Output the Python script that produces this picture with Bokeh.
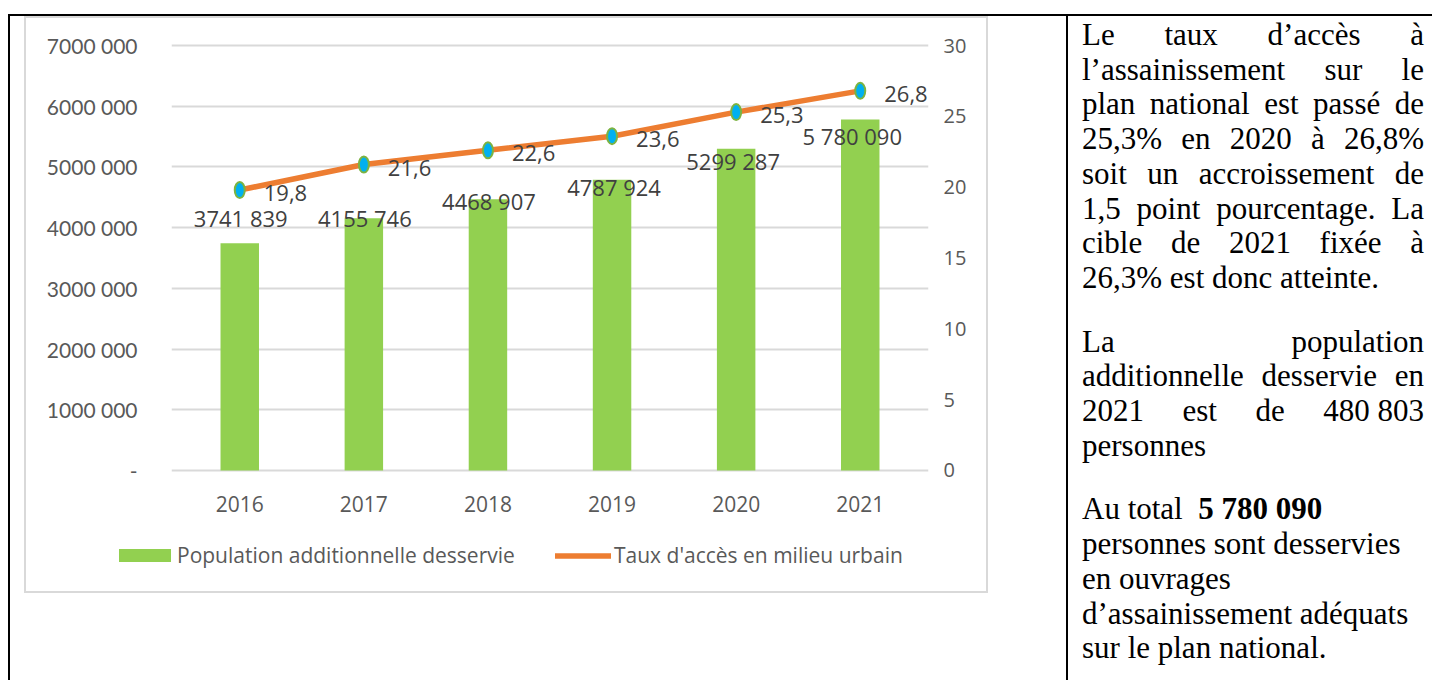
from bokeh.plotting import figure
from bokeh.models import (ColumnDataSource, FactorRange, Range1d, LinearAxis,
                          FixedTicker, Legend, LegendItem, Div, Spacer)
from bokeh.layouts import row, column
from bokeh.core.properties import value
from bokeh.embed import file_html
from bokeh.resources import INLINE

# ---------------- data ----------------
years = ["2016", "2017", "2018", "2019", "2020", "2021"]
population = [3741839, 4155746, 4468907, 4787924, 5299287, 5780090]
population_labels = ["3741 839", "4155 746", "4468 907", "4787 924", "5299 287", "5 780 090"]
taux = [19.8, 21.6, 22.6, 23.6, 25.3, 26.8]
taux_labels = ["19,8", "21,6", "22,6", "23,6", "25,3", "26,8"]

left_ticks = [0, 1000000, 2000000, 3000000, 4000000, 5000000, 6000000, 7000000]
left_tick_labels = ["-", "1000 000", "2000 000", "3000 000", "4000 000",
                    "5000 000", "6000 000", "7000 000"]
right_ticks = [0, 5, 10, 15, 20, 25, 30]
right_tick_labels = ["0", "5", "10", "15", "20", "25", "30"]

legend_bar = "Population additionnelle desservie"
legend_line = "Taux d'accès en milieu urbain"

# label nudges (screen px, style only)
pop_label_dx = [1, 1, 1, 2, -3, -8]
pop_label_dy = [-25, 0, 2, 7, 12, 16]

para1 = ["Le taux d’accès à", "l’assainissement sur le", "plan national est passé de",
         "25,3% en 2020 à 26,8%", "soit un accroissement de", "1,5 point pourcentage. La",
         "cible de 2021 fixée à", "26,3% est donc atteinte."]
para2 = ["La population", "additionnelle desservie en",
         "2021 est de <span style='display:inline-block'>480&nbsp;803</span>", "personnes"]
para3 = ["Au total&nbsp; <b>5 780 090</b>", "personnes sont desservies", "en ouvrages",
         "d’assainissement adéquats", "sur le plan national."]

BAR_COLOR = "#92D050"
LINE_COLOR = "#ED7D31"

# ---------------- chart ----------------
src = ColumnDataSource(dict(year=years, pop=population, pop_lbl=population_labels,
                            taux=taux, taux_lbl=taux_labels,
                            pop_dx=pop_label_dx, pop_dy=pop_label_dy))

pad = 50000
p = figure(x_range=FactorRange(factors=years, range_padding=0.05,
                               range_padding_units="absolute"),
           y_range=Range1d(-pad, 7000000 + pad),
           width=960, height=512, output_backend="svg", toolbar_location=None,
           title=None, min_border_left=145, min_border_right=58,
           min_border_top=24, min_border_bottom=57,
           outline_line_color=None, frame_align=False)
p.extra_y_ranges = {"pct": Range1d(-pad * 30 / 7000000, (7000000 + pad) * 30 / 7000000)}

ax = p.yaxis[0]
ax.ticker = FixedTicker(ticks=left_ticks)
ax.major_label_overrides = dict(zip(left_ticks, left_tick_labels))
ax.axis_line_color = None
ax.major_tick_line_color = None
ax.minor_tick_line_color = None
ax.major_tick_out = 0
ax.major_label_standoff = 34
ax.major_label_text_font = "Lato"
ax.major_label_text_font_size = "21px"
ax.major_label_text_color = "#595959"

rax = LinearAxis(y_range_name="pct", ticker=FixedTicker(ticks=right_ticks),
                 major_label_overrides=dict(zip(right_ticks, right_tick_labels)))
rax.axis_line_color = None
rax.major_tick_line_color = None
rax.minor_tick_line_color = None
rax.major_tick_out = 0
rax.major_label_standoff = 15
rax.major_label_text_font = "Open Sans"
rax.major_label_text_font_size = "20px"
rax.major_label_text_color = "#595959"
p.add_layout(rax, "right")

xax = p.xaxis[0]
xax.axis_line_color = None
xax.major_tick_line_color = None
xax.major_tick_out = 0
xax.major_label_standoff = 22
xax.major_label_text_font = "Open Sans"
xax.major_label_text_font_size = "21px"
xax.major_label_text_color = "#595959"

p.xgrid.grid_line_color = None
p.ygrid[0].ticker = FixedTicker(ticks=left_ticks)
p.ygrid.grid_line_color = "#D9D9D9"
p.ygrid.grid_line_width = 2

p.vbar(x="year", top="pop", width=0.31, source=src,
       fill_color=BAR_COLOR, line_color=None)
p.text(x="year", y="pop", text="pop_lbl", x_offset="pop_dx", y_offset="pop_dy",
       source=src, text_align="center", text_baseline="middle",
       text_font=value("Open Sans"), text_font_size="22px", text_color="#404040")
p.line(x="year", y="taux", source=src, y_range_name="pct",
       line_color=LINE_COLOR, line_width=5.5, line_cap="round", line_join="round")
p.ellipse(x="year", y="taux", width=10, height=16, width_units="screen",
          height_units="screen", source=src, y_range_name="pct",
          fill_color="#00B0F0", line_color="#7CB342", line_width=2)
p.text(x="year", y="taux", text="taux_lbl", x_offset=24, y_offset=3, source=src,
       y_range_name="pct", text_align="left", text_baseline="middle",
       text_font=value("Open Sans"), text_font_size="22px", text_color="#404040")

# ---------------- legend strip (bottom of the same chart box) ----------------
# same series on a range they never reach, so only the legend swatches show
q = figure(x_range=FactorRange(factors=years), y_range=Range1d(1e8, 2e8),
           width=960, height=61, output_backend="svg", toolbar_location=None,
           title=None, x_axis_type=None, y_axis_type=None, min_border=0,
           outline_line_color=None, frame_align=False)
q.grid.visible = False
lg_bar = q.vbar(x="year", top="pop", width=0.31, source=src,
                fill_color=BAR_COLOR, line_color=None)
lg_line = q.line(x="year", y="taux", source=src, line_color=LINE_COLOR,
                 line_width=5.5, line_cap="round")
common = dict(orientation="horizontal", padding=0, margin=0, spacing=0,
              border_line_color=None, background_fill_alpha=0,
              label_text_font="Open Sans", label_text_font_size="21px",
              label_text_color="#595959")
leg1 = Legend(items=[LegendItem(label=legend_bar, renderers=[lg_bar])],
              location=(86, 22), glyph_width=65, glyph_height=16,
              label_standoff=0, **common)
leg2 = Legend(items=[LegendItem(label=legend_line, renderers=[lg_line])],
              location=(529, 22), glyph_width=56, glyph_height=13,
              label_standoff=3, **common)
q.add_layout(leg1, "center")
q.add_layout(leg2, "center")

chart_box = column(p, q, margin=(4, 0, 0, 18),
                   styles={"outline": "2px solid #D9D9D9"})

# ---------------- text cell ----------------
def para_html(lines, justify_until, last=False):
    out = []
    for i, t in enumerate(lines):
        if i < justify_until:
            st = "text-align:justify;text-align-last:justify;"
        else:
            st = "text-align:left;"
        out.append(f'<div style="{st}">{t}</div>')
    mb = "0" if last else "29px"
    return f'<div style="margin-bottom:{mb}">' + "".join(out) + "</div>"

html = ("<div style=\"font-family:'Liberation Serif';font-size:31px;line-height:34.7px;"
        "color:#000;padding:4px 8px 0 16px;width:366px;box-sizing:border-box;\">"
        + para_html(para1, 7) + para_html(para2, 3) + para_html(para3, 0, last=True)
        + "</div>")

div = Div(text=html, width=366, height=666, margin=(0, 0, 0, 80),
          styles={"box-shadow": "inset 2px 0 0 #000"})

body = row(chart_box, div, styles={"box-shadow": "inset 2px 2px 0 #000"})
layout = column(Spacer(width=1432, height=14), row(Spacer(width=8, height=10), body))

open("out.html", "w").write(file_html(layout, INLINE))
